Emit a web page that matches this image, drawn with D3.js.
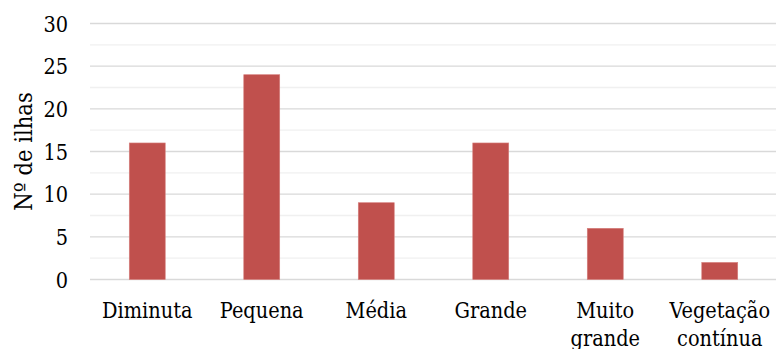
<!DOCTYPE html>
<html>
<head>
<meta charset="utf-8">
<script src="https://cdn.jsdelivr.net/npm/d3@7"></script>
<style>
  html, body { margin: 0; padding: 0; background: #fff; }
  svg { display: block; }
  text { font-family: "DejaVu Serif Condensed", "DejaVu Serif", serif; font-stretch: condensed; fill: #000; }
</style>
</head>
<body>
<svg id="chart" width="776" height="349"></svg>
<script>
const categories = [["Diminuta"], ["Pequena"], ["Média"], ["Grande"], ["Muito", "grande"], ["Vegetação", "contínua"]];
const values = [16, 24, 9, 16, 6, 2];
const yTicks = [0, 5, 10, 15, 20, 25, 30];
const yMinorTicks = [2.5, 7.5, 12.5, 17.5, 22.5, 27.5];
const yTitle = "Nº de ilhas";

(function () {
const svg = d3.select("#chart");
const mLeft = 90, mRight = 777, mTop = 23.5, mBottom = 279.5;
const keys = categories.map(c => c.join(" "));
const fs = 21.5;

const x = d3.scaleBand().domain(keys).range([mLeft, mRight]).paddingInner(0.686).paddingOuter(0.343);
const y = d3.scaleLinear().domain([0, 30]).range([mBottom, mTop]);

// minor gridlines
svg.append("g").selectAll("line").data(yMinorTicks).join("line")
  .attr("x1", mLeft).attr("x2", 776)
  .attr("y1", d => y(d)).attr("y2", d => y(d))
  .attr("stroke", "#f0f0f0").attr("stroke-width", 1.3);

// major gridlines
svg.append("g").selectAll("line").data(yTicks).join("line")
  .attr("x1", mLeft).attr("x2", 776)
  .attr("y1", d => y(d)).attr("y2", d => y(d))
  .attr("stroke", "#d9d9d9").attr("stroke-width", 1.3);

// bars
svg.append("g").selectAll("rect").data(values).join("rect")
  .attr("x", (d, i) => x(keys[i]))
  .attr("width", x.bandwidth())
  .attr("y", d => y(d))
  .attr("height", d => y(0) - y(d))
  .attr("fill", "#c0504d")
  .attr("stroke", "#d67f7c").attr("stroke-width", 0.6);

// y axis labels
const yAxis = d3.axisLeft(y).tickValues(yTicks).tickSize(0).tickPadding(0);
const yg = svg.append("g").attr("transform", `translate(68,0)`).call(yAxis);
yg.select(".domain").remove();
yg.selectAll("text").attr("font-size", fs).attr("font-family", null).attr("dy", "0.36em").attr("fill", "#000");

// x axis labels
const xg = svg.append("g");
categories.forEach((lines, i) => {
  const cx = x(keys[i]) + x.bandwidth() / 2;
  const t = xg.append("text")
    .attr("x", cx)
    .attr("y", 317.5)
    .attr("text-anchor", "middle")
    .attr("font-size", fs);
  lines.forEach((l, j) => {
    t.append("tspan").attr("x", cx).attr("dy", j === 0 ? 0 : 28).text(l);
  });
});

// y title
svg.append("text")
  .attr("transform", `translate(31.5,${(mTop + mBottom) / 2}) rotate(-90)`)
  .attr("text-anchor", "middle")
  .attr("font-size", 23.5)
  .text(yTitle);
})();
</script>
</body>
</html>
